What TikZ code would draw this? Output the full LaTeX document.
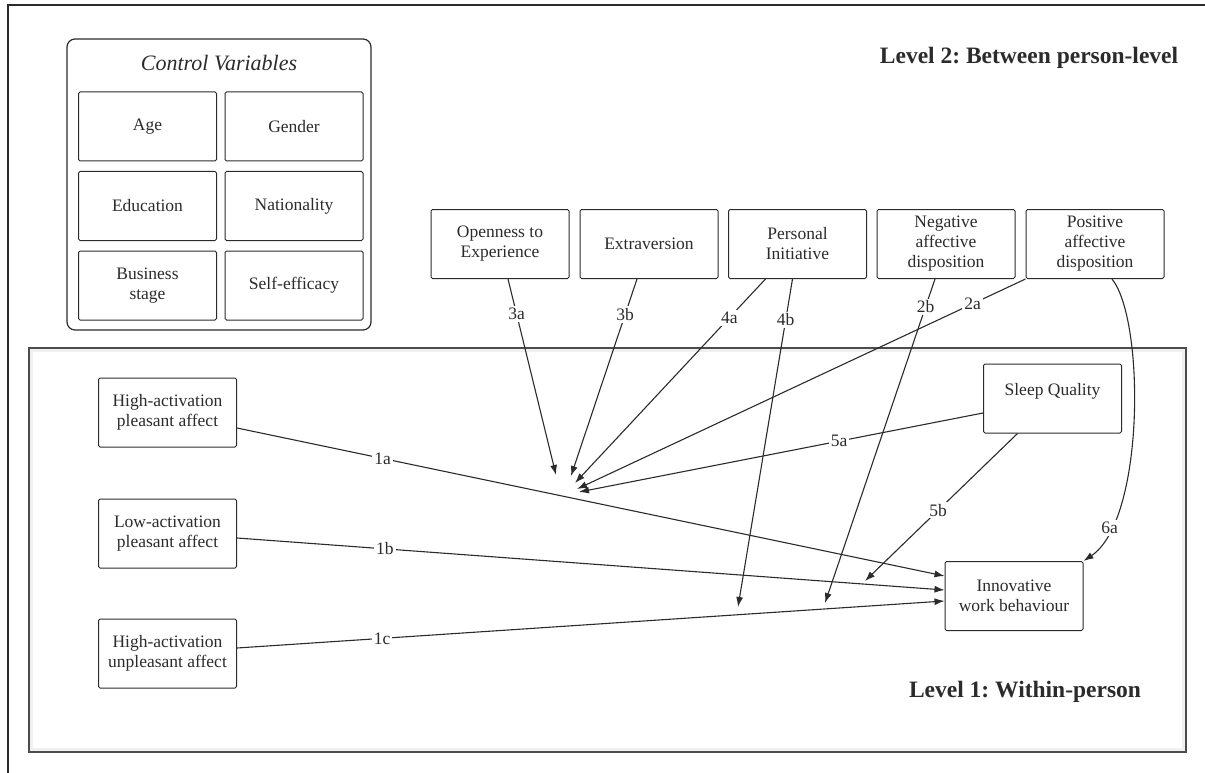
\documentclass[tikz,border=0pt]{standalone}
\usepackage{fontspec}
\setmainfont{Liberation Serif}
\usetikzlibrary{arrows.meta}
\definecolor{ink}{HTML}{2B2B2B}
\frenchspacing
\begin{document}
\begin{tikzpicture}[x=1pt,y=-1pt,
  every node/.style={text=ink},
  var/.style={draw=ink, line width=1pt, rounded corners=1.5pt,
    minimum width=138pt, minimum height=69pt, align=center, inner sep=0pt,
    font=\fontsize{17.5}{20}\selectfont},
  lab/.style={fill=white, inner sep=2pt, font=\fontsize{17.5}{20}\selectfont},
  link/.style={draw=ink, line width=1.1pt, -{Latex[length=10pt,width=7pt]}},
  levelttl/.style={font=\fontsize{23.5}{26}\selectfont\bfseries},
]
\useasboundingbox (0,0) rectangle (1205,773);

% outer frame
\draw[line width=2.2pt, draw=ink] (1215,5) -- (8,5) -- (8,785);

% control variables panel
\node[draw=ink, line width=1.2pt, rounded corners=8pt, minimum width=304pt,
  minimum height=291pt, inner sep=0pt] (cv) at (219,184.5) {};
\node[font=\fontsize{22}{24}\selectfont\itshape] (cvt) at (219,63) {Control Variables};
\node[var] (age) at (147.5,126.5) {Age};
\node[var] (gen) at (294,126.5) {Gender};
\node[var] (edu) at (147.5,206) {Education};
\node[var] (nat) at (294,206) {Nationality};
\node[var] (bus) at (147.5,285.5) {Business\\stage};
\node[var] (sef) at (294,285.5) {Self-efficacy};

% level titles
\node[levelttl] (l2) at (1029,58) {Level 2: Between person-level};

% within-person panel, with a very faint inner shadow
\node[draw=black!6, line width=3pt, minimum width=1152pt, minimum height=399pt,
  inner sep=0pt] (wpshade) at (607.5,550) {};
\node[draw=black!70, line width=1.6pt, minimum width=1157pt, minimum height=404pt,
  inner sep=0pt] (wp) at (607.5,550) {};
\node[levelttl] (l1) at (1025,692) {Level 1: Within-person};

% between-person variables
\node[var] (op) at (500,244) {Openness to\\Experience};
\node[var] (ex) at (649,244) {Extraversion};
\node[var] (pi) at (797.5,244) {Personal\\Initiative};
\node[var] (nd) at (946,244) {Negative\\affective\\disposition};
\node[var] (pd) at (1095,244) {Positive\\affective\\disposition};

% within-person variables
\node[var] (hap) at (167.5,412.5) {High-activation\\pleasant affect};
\node[var] (lap) at (167.5,533.5) {Low-activation\\pleasant affect};
\node[var] (hau) at (167.5,653.5) {High-activation\\unpleasant affect};
\node[var, text depth=18pt] (sq) at (1052.5,398.5) {Sleep Quality};
\node[var] (iwb) at (1014,596) {Innovative\\work behaviour};

% moderation targets
\coordinate (t3a) at (556,475);
\coordinate (t3b) at (571,476);
\coordinate (t4a) at (575,483);
\coordinate (t2a) at (577,489);
\coordinate (t5a) at (579,492);
\coordinate (t4b) at (738,607);
\coordinate (t2b) at (825,603);
\coordinate (t5b) at (865,581);

% main effects
\path[link] ([yshift=-15.5pt]hap.east) -- node[lab, pos=0.206] {1a} ([yshift=20pt]iwb.west);
\path[link] ([yshift=-4.5pt]lap.east) -- node[lab, pos=0.209] {1b} ([yshift=6pt]iwb.west);
\path[link] ([yshift=5.5pt]hau.east) -- node[lab, pos=0.205] {1c} ([yshift=-5pt]iwb.west);

% moderating effects
\path[link] ([xshift=8pt]op.south) -- node[lab, pos=0.18] {3a} (t3a);
\path[link] ([xshift=-12pt]ex.south) -- node[lab, pos=0.18] {3b} (t3b);
\path[link] ([xshift=-32pt]pi.south) -- node[lab, pos=0.19] {4a} (t4a);
\path[link] ([xshift=-5pt]pi.south) -- node[lab, pos=0.125] {4b} (t4b);
\path[link] (pd.south west) -- node[lab, pos=0.118] {2a} (t2a);
\path[link] ([xshift=-11pt]nd.south) -- node[lab, pos=0.086] {2b} (t2b);
\path[link] ([yshift=-14.5pt]sq.west) -- node[lab, pos=0.356] {5a} (t5a);
\path[link] ([xshift=-35pt]sq.south) -- node[lab, pos=0.52] {5b} (t5b);
\path[link] ([xshift=17pt]pd.south) .. controls (1145,320) and (1145,520) ..
  node[lab, pos=0.83] {6a} (iwb.north east);
\end{tikzpicture}
\end{document}
